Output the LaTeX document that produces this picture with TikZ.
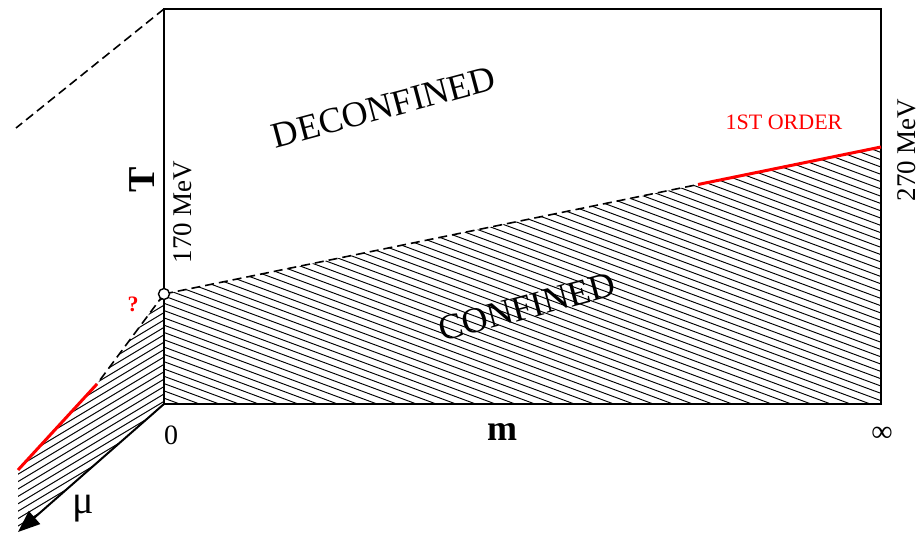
\documentclass[tikz,border=0pt]{standalone}
\usepackage{fontspec}
\setmainfont{Liberation Serif}
\usetikzlibrary{arrows.meta}
\begin{document}
\begin{tikzpicture}[x=1pt,y=-1pt,
  frame/.style={line width=2pt},
  hatchline/.style={line width=0.95pt,black},
  dashline/.style={line width=1.6pt,dash pattern=on 9pt off 5pt},
  redline/.style={line width=3pt,red},
  lbl/.style={inner sep=0pt,font=\fontsize{27}{30}\selectfont}]
\useasboundingbox (0,0) rectangle (921,534);
% key points
\coordinate (O) at (164,404);
\coordinate (TL) at (164,9);
\coordinate (TR) at (881,9);
\coordinate (BR) at (881,404);
\coordinate (C) at (164,294);
\coordinate (E) at (881,147);
\coordinate (R1) at (698,184.5);
\coordinate (L1) at (97,384);
\coordinate (L2) at (18,470);
\coordinate (MU) at (18,532);
\coordinate (D1) at (16,128);
% hatching, main region
\begin{scope}
  \clip (C) -- (E) -- (BR) -- (O) -- cycle;
  \foreach \i [evaluate=\i as \c using -210+7.3*\i] in {0,...,78}
    \draw[hatchline] (150,{\c+0.37*150}) -- (900,{\c+0.37*900});
\end{scope}
% hatching, left wedge
\begin{scope}
  \clip (C) -- (L1) -- (L2) -- (MU) -- (O) -- cycle;
  \foreach \i [evaluate=\i as \c using 300+7.4*\i] in {0,...,40}
    \draw[hatchline] (0,{\c}) -- (180,{\c-0.6*180});
\end{scope}
% frame
\draw[frame] (C) -- (TL) -- (TR) -- (BR) -- (O) -- cycle;
% mu axis
\draw[frame,-{Triangle[length=22pt,width=17pt]}] (O) -- (MU);
% dashed top-left
\draw[dashline] (TL) -- (D1);
% transition lines
\draw[dashline] (C) -- (R1);
\draw[redline] (R1) -- (E);
\draw[dashline] (C) -- (L1);
\draw[redline] (L1) -- (L2);
% critical point
\node[circle,draw,line width=1.4pt,fill=white,minimum size=11pt,inner sep=0pt] (circ) at (C) {};
% labels
\node[lbl,font=\fontsize{36}{40}\selectfont,rotate=15] (deconf) at (384,107) {DECONFINED};
\node[lbl,font=\fontsize{36}{40}\selectfont,rotate=15] (conf) at (527,307) {CONFINED};
\node[lbl,font=\fontsize{22}{26}\selectfont,text=red] (order) at (784,122) {1ST ORDER};
\node[lbl,rotate=90] (t270) at (907,150) {270 MeV};
\node[lbl,rotate=90] (t170) at (183,212) {170 MeV};
\node[lbl,font=\fontsize{38}{40}\selectfont\bfseries,rotate=90] (Tlab) at (142,180) {T};
\node[lbl,font=\fontsize{36}{40}\selectfont\bfseries] (mlab) at (502,432) {m};
\node[lbl,font=\fontsize{28}{30}\selectfont] (zero) at (171,435) {0};
\node[lbl,font=\fontsize{30}{32}\selectfont] (infty) at (882,434) {∞};
\node[lbl,font=\fontsize{40}{44}\selectfont] (mu) at (83,509) {μ};
\node[lbl,font=\fontsize{22}{26}\selectfont\bfseries,text=red] (qmark) at (133,304) {?};
\end{tikzpicture}
\end{document}
